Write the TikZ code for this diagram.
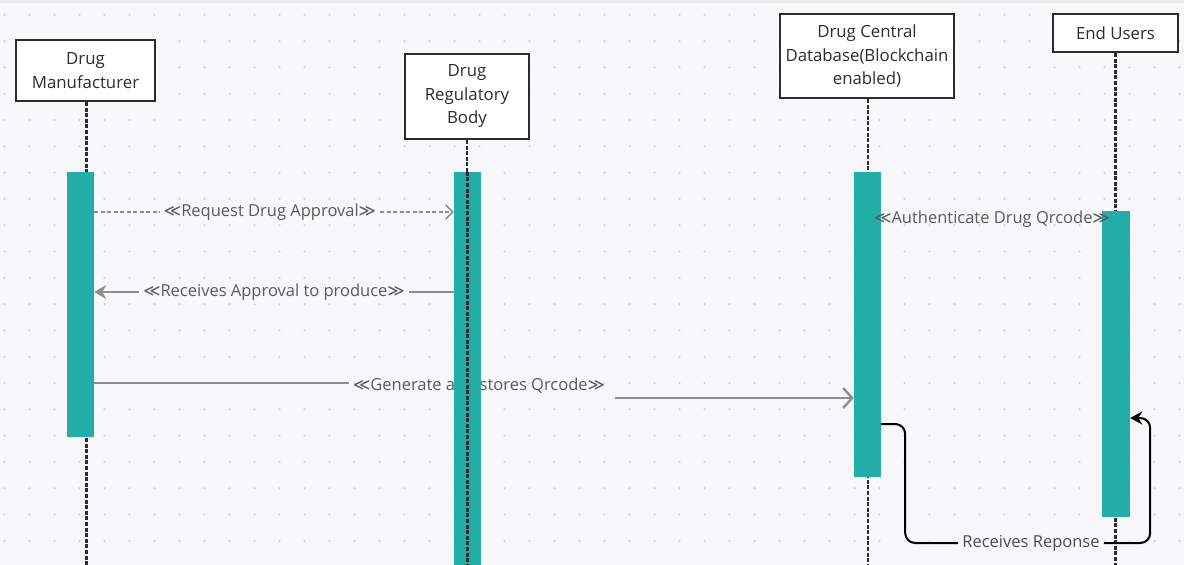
\documentclass[tikz,border=0pt]{standalone}
\usepackage{fontspec}
\setmainfont{Open Sans}
\newfontfamily\symf{DejaVu Sans}
\newcommand{\stl}{{\symf ≪}}
\newcommand{\str}{{\symf ≫}}
\usetikzlibrary{arrows.meta}
\definecolor{bgc}{HTML}{F8F8FB}
\definecolor{barcol}{HTML}{22ADA9}
\definecolor{dotc}{HTML}{D2D2D8}
\definecolor{msgc}{HTML}{8E8E8E}
\definecolor{lblc}{HTML}{5A5A5A}
\definecolor{ink}{HTML}{2C2C2C}
\tikzset{
  actor/.style={draw=ink, line width=2pt, fill=white, align=center, text=ink,
    font=\fontsize{16.8}{23.5}\selectfont, inner sep=0pt},
  actbar/.style={fill=barcol, draw=none, minimum width=27pt, inner sep=0pt},
  life/.style={draw=ink, line width=2.4pt, dash pattern=on 4pt off 1.6pt},
  msglbl/.style={text=lblc, font=\fontsize{16.5}{18}\selectfont, inner sep=4pt},
  msgline/.style={draw=msgc, line width=2pt},
  respline/.style={draw=black, line width=2pt, rounded corners=10pt},
}
\begin{document}
\begin{tikzpicture}[x=1pt,y=-1pt]
\fill[bgc] (0,0) rectangle (1184,565);
\useasboundingbox (0,0) rectangle (1184,565);
\fill[black!7] (0,0) rectangle (1184,3);
% dotted grid
\foreach \i in {0,...,47}{
  \foreach \j in {0,...,20}{
    \fill[dotc] ({4.5+25*\i},{14.8+26.3*\j}) circle (1.2pt);
  }
}
\coordinate (bottom) at (0,567);
% actors
\node[actor, minimum width=139pt, minimum height=61pt] (man) at (85.5,70.5) {Drug\\Manufacturer};
\node[actor, minimum width=124pt, minimum height=85pt] (reg) at (467,96.5) {Drug\\Regulatory\\Body};
\node[actor, minimum width=174pt, minimum height=84pt] (db) at (867,56) {Drug Central\\Database(Blockchain\\enabled)};
\node[actor, minimum width=125pt, minimum height=38pt] (eu) at (1115.5,33) {End Users};
% lifelines
\draw[life] ([xshift=1pt]man.south) -- ([xshift=1pt]man.south |- bottom);
\draw[life] (reg.south) -- (reg.south |- bottom);
\draw[life] ([xshift=1pt]db.south) -- ([xshift=1pt]db.south |- bottom);
\draw[life] (eu.south) -- (eu.south |- bottom);
% activation bars
\node[actbar, minimum height=265pt] (mbar) at (80.5,304.5) {};
\node[actbar, minimum height=396pt] (rbar) at (467.5,370) {};
\node[actbar, minimum height=305pt] (dbar) at (867.5,324.5) {};
\node[actbar, minimum width=28pt, minimum height=306pt] (ebar) at (1116,364) {};
% message 1
\node[msglbl] (req) at (270,212) {\stl Request Drug Approval\str};
\draw[msgline, line width=1.5pt, dash pattern=on 4pt off 2.5pt] (req -| mbar.east) -- (req.west);
\draw[msgline, line width=1.5pt, dash pattern=on 4pt off 2.5pt, -{Straight Barb[length=7pt,width=14pt,line width=1.5pt]}] (req.east) -- (req -| rbar.west);
% message 2
\node[msglbl] (rec) at (274,292) {\stl Receives Approval to produce\str};
\draw[msgline] (rec -| rbar.west) -- (rec.east);
\draw[msgline, -{Stealth[length=12pt,width=14pt]}] (rec.west) -- (rec -| mbar.east);
% message 3
\node[msglbl] (gen) at (479,386) {\stl Generate and stores Qrcode\str};
\coordinate (g1) at ([yshift=3pt]gen.west);
\coordinate (g2) at ([xshift=6pt,yshift=-12pt]gen.east);
\draw[msgline, line width=2.4pt] (g1 -| mbar.east) -- (g1);
\draw[msgline, line width=2.4pt, -{Straight Barb[length=9pt,width=20pt,line width=2.4pt]}] (g2) -- (g2 -| dbar.west);
% regulatory bar redrawn over the label
\fill[barcol] (rbar.north west) rectangle (rbar.south east);
\draw[life] (rbar.north) -- (rbar.north |- bottom);
% message 4
\node[msglbl, inner sep=0pt] (auth) at (992,219) {\stl Authenticate Drug Qrcode\str};
% message 5
\node[msglbl, text=ink!85] (resp) at (1031,543) {Receives Reponse};
\coordinate (r0) at ([yshift=-99.5pt]dbar.east);
\coordinate (e0) at ([yshift=-54pt]ebar.east);
\draw[respline] (r0) -- ++(24,0) |- (resp.west);
\draw[respline, -{Stealth[length=12pt,width=13pt]}] (resp.east) -| ([xshift=20pt]e0) -- (e0);
\end{tikzpicture}
\end{document}
